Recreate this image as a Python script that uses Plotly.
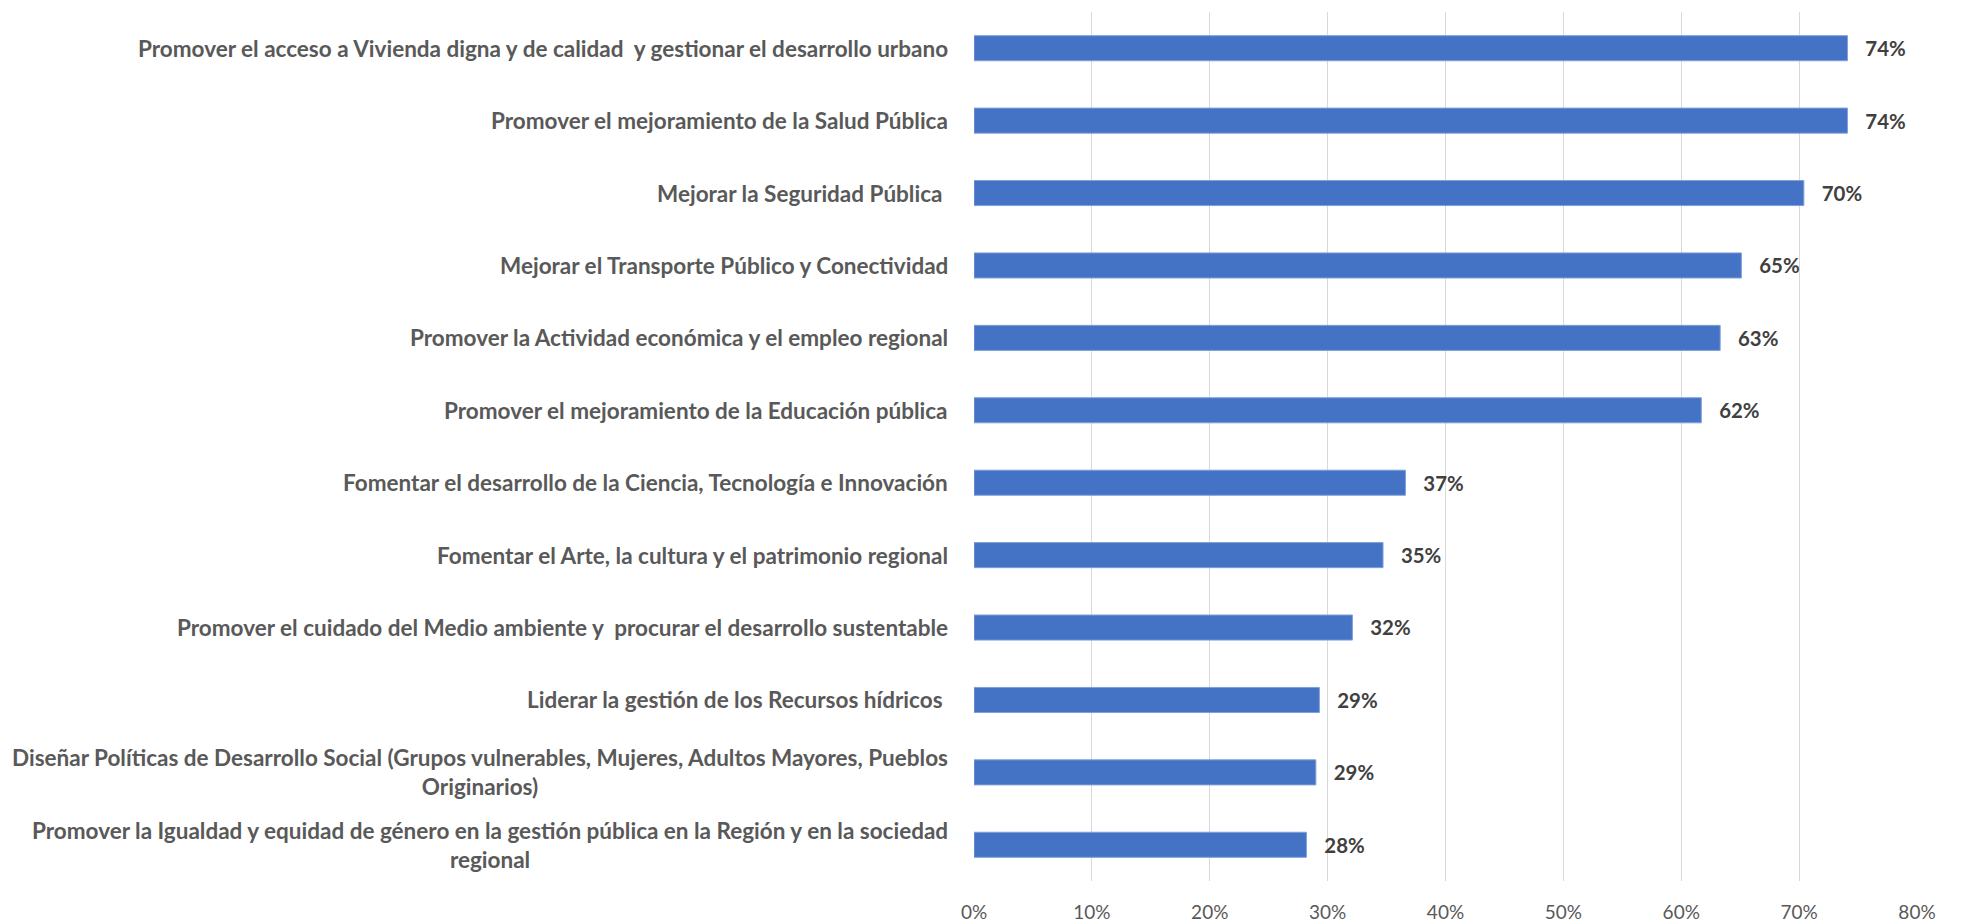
import plotly.graph_objects as go

categories = [
    "Promover el acceso a Vivienda digna y de calidad  y gestionar el desarrollo urbano",
    "Promover el mejoramiento de la Salud Pública",
    "Mejorar la Seguridad Pública ",
    "Mejorar el Transporte Público y Conectividad",
    "Promover la Actividad económica y el empleo regional",
    "Promover el mejoramiento de la Educación pública",
    "Fomentar el desarrollo de la Ciencia, Tecnología e Innovación",
    "Fomentar el Arte, la cultura y el patrimonio regional",
    "Promover el cuidado del Medio ambiente y  procurar el desarrollo sustentable",
    "Liderar la gestión de los Recursos hídricos ",
    "Diseñar Políticas de Desarrollo Social (Grupos vulnerables, Mujeres, Adultos Mayores, Pueblos<br>Originarios)",
    "Promover la Igualdad y equidad de género en la gestión pública en la Región y en la sociedad<br>regional",
]
values = [0.741, 0.741, 0.704, 0.651, 0.633, 0.617, 0.366, 0.347, 0.321, 0.293, 0.290, 0.282]
x_ticks = [0, 0.1, 0.2, 0.3, 0.4, 0.5, 0.6, 0.7, 0.8]
x_ticklabels = ["0%", "10%", "20%", "30%", "40%", "50%", "60%", "70%", "80%"]

FONT = "Lato, 'Open Sans', sans-serif"

fig = go.Figure()
fig.add_trace(go.Bar(
    x=values,
    y=categories,
    orientation="h",
    marker=dict(color="#4472C4", line=dict(color="#7F9FD9", width=1)),
    texttemplate="\u00a0\u00a0\u00a0%{x:.0%}",
    textposition="outside",
    textfont=dict(family=FONT, size=22, color="#404040", weight="bold"),
    cliponaxis=False,
    width=0.346,
))

for c in categories:
    fig.add_annotation(
        x=0, xref="paper", y=c, yref="y",
        text="<b>" + c + "</b>",
        showarrow=False, xanchor="right", align="center",
        xshift=-24,
        font=dict(family=FONT, size=22.5, color="#595959"),
    )

fig.update_layout(
    width=1965, height=924,
    margin=dict(l=966, r=56, t=4, b=51),
    plot_bgcolor="white", paper_bgcolor="white",
    showlegend=False,
    bargap=0.654,
    xaxis=dict(
        range=[0, 0.8], tickvals=x_ticks, ticktext=x_ticklabels,
        showgrid=True, gridcolor="#D9D9D9", gridwidth=1,
        zeroline=False, showline=False,
        tickfont=dict(family=FONT, size=19, color="#595959"),
        ticklabelstandoff=18,
    ),
    yaxis=dict(
        categoryorder="array", categoryarray=categories,
        autorange="reversed", showticklabels=False,
        showgrid=False, zeroline=False, showline=False,
    ),
)

fig.write_html("out.html")
